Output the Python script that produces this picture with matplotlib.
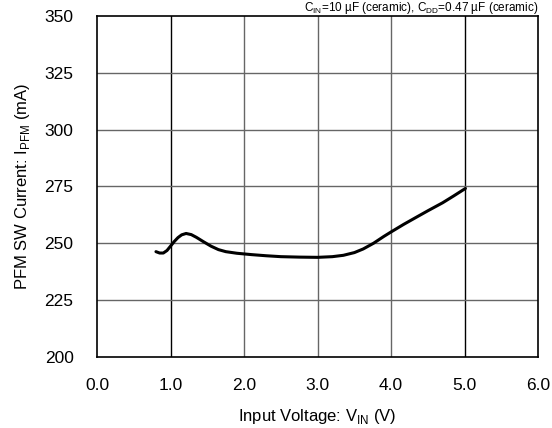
import numpy as np
import matplotlib.pyplot as plt

# data
vin = [0.80, 0.85, 0.90, 0.95, 1.00, 1.05, 1.10, 1.15, 1.21, 1.28, 1.35, 1.45, 1.55, 1.65, 1.75,
       1.90, 2.10, 2.30, 2.50, 2.75, 3.00, 3.20, 3.35, 3.50, 3.62, 3.76, 3.90, 4.00, 4.17, 4.34,
       4.50, 4.70, 4.85, 5.01]
ipfm = [246.3, 245.7, 245.7, 246.8, 248.8, 250.8, 252.5, 253.7, 254.3, 253.8, 252.6, 250.6, 248.7, 247.2, 246.3,
        245.6, 245.0, 244.5, 244.1, 243.9, 243.8, 244.1, 244.7, 245.9, 247.5, 250.0, 253.0, 255.0, 258.3, 261.4,
        264.3, 267.8, 270.8, 274.1]

xticks = [0.0, 1.0, 2.0, 3.0, 4.0, 5.0, 6.0]
yticks = [200, 225, 250, 275, 300, 325, 350]

plt.rcParams['font.family'] = ['Liberation Sans', 'DejaVu Sans']

fig = plt.figure(figsize=(5.52, 4.28), dpi=100)
ax = fig.add_axes([0.176, 0.166, 0.799, 0.797])

# grid, with darker lines at 1.0 and 5.0 like the reference
for x in xticks[1:-1]:
    col = 'black' if x in (1.0, 5.0) else '#666666'
    ax.axvline(x, color=col, lw=1.0, zorder=1)
for y in yticks[1:-1]:
    ax.axhline(y, color='#666666', lw=1.0, zorder=1)

ax.plot(vin, ipfm, color='black', lw=2.2, zorder=3, solid_capstyle='round')

ax.set_xlim(0, 6)
ax.set_ylim(200, 350)
ax.set_xticks(xticks)
ax.set_xticklabels([f'{v:.1f}' for v in xticks])
ax.set_yticks(yticks)
ax.tick_params(axis='x', length=0, labelsize=12.5, pad=15)
ax.tick_params(axis='y', length=0, labelsize=12.5, pad=17)
for s in ax.spines.values():
    s.set_linewidth(1.2)

ax.set_xlabel('Input Voltage: V$_{\\mathregular{IN}}$ (V)', fontsize=12, labelpad=10)
ax.set_ylabel('PFM SW Current: I$_{\\mathregular{PFM}}$ (mA)', fontsize=12, labelpad=9)

fig.text(0.975, 0.962, 'C$_{\\mathregular{IN}}$=10 µF (ceramic), C$_{\\mathregular{DD}}$=0.47 µF (ceramic)',
         ha='right', va='bottom', fontsize=8.5)

fig.savefig('out.png', dpi=100)
